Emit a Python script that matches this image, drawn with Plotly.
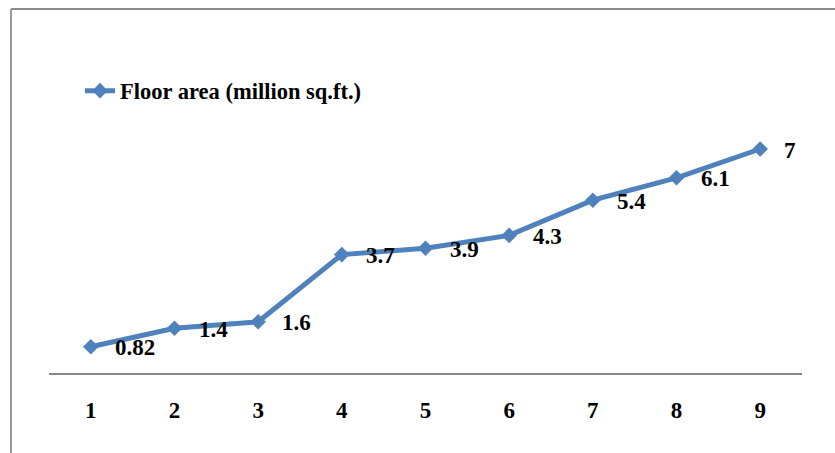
import plotly.graph_objects as go

categories = [1, 2, 3, 4, 5, 6, 7, 8, 9]
tick_labels = ["1", "2", "3", "4", "5", "6", "7", "8", "9"]
floor_area = [0.82, 1.4, 1.6, 3.7, 3.9, 4.3, 5.4, 6.1, 7]
value_labels = ["0.82", "1.4", "1.6", "3.7", "3.9", "4.3", "5.4", "6.1", "7"]
series_name = "Floor area (million sq.ft.)"

W, H = 835, 453
L, R, T, B = 49, 33, 117, 80
pw, ph = W - L - R, H - T - B

def px_x(p):
    return (p - L) / pw

def px_y(p):
    return (H - B - p) / ph

FONT = "Liberation Serif"
BLUE = "#4F81BD"

fig = go.Figure()
fig.add_trace(go.Scatter(
    x=categories, y=floor_area, mode="lines+markers", name=series_name,
    line=dict(color=BLUE, width=5),
    marker=dict(symbol="diamond", size=12, color=BLUE),
))

annotations = []
for xv, yv, lab in zip(categories, floor_area, value_labels):
    annotations.append(dict(
        x=xv, y=yv, text=lab, showarrow=False, xanchor="left", yanchor="middle",
        xshift=22, yshift=-1,
        font=dict(family=FONT, size=23, color="black", weight=700),
    ))

shapes = [
    dict(type="line", xref="paper", yref="paper", x0=px_x(11), x1=px_x(836),
         y0=px_y(9), y1=px_y(9), line=dict(color="#8c8c8c", width=2)),
    dict(type="line", xref="paper", yref="paper", x0=px_x(11), x1=px_x(11),
         y0=px_y(9), y1=px_y(454), line=dict(color="#9a9a9a", width=2)),
]

fig.update_layout(
    width=W, height=H,
    margin=dict(l=L, r=R, t=T, b=B),
    paper_bgcolor="white", plot_bgcolor="white",
    showlegend=True,
    legend=dict(x=px_x(80), y=px_y(91), xanchor="left", yanchor="middle",
                font=dict(family=FONT, size=22.5, color="black", weight=700),
                bgcolor="rgba(0,0,0,0)"),
    annotations=annotations,
    shapes=shapes,
    xaxis=dict(range=[0.5, 9.5], tickmode="array", tickvals=categories,
               ticktext=tick_labels, showgrid=False, zeroline=False,
               showline=True, linecolor="#868686", linewidth=2, ticks="",
               ticklabelstandoff=15,
               tickfont=dict(family=FONT, size=23, color="black", weight=700)),
    yaxis=dict(range=[0, 8], visible=False, showgrid=False, zeroline=False),
)

fig.write_html("out.html")
